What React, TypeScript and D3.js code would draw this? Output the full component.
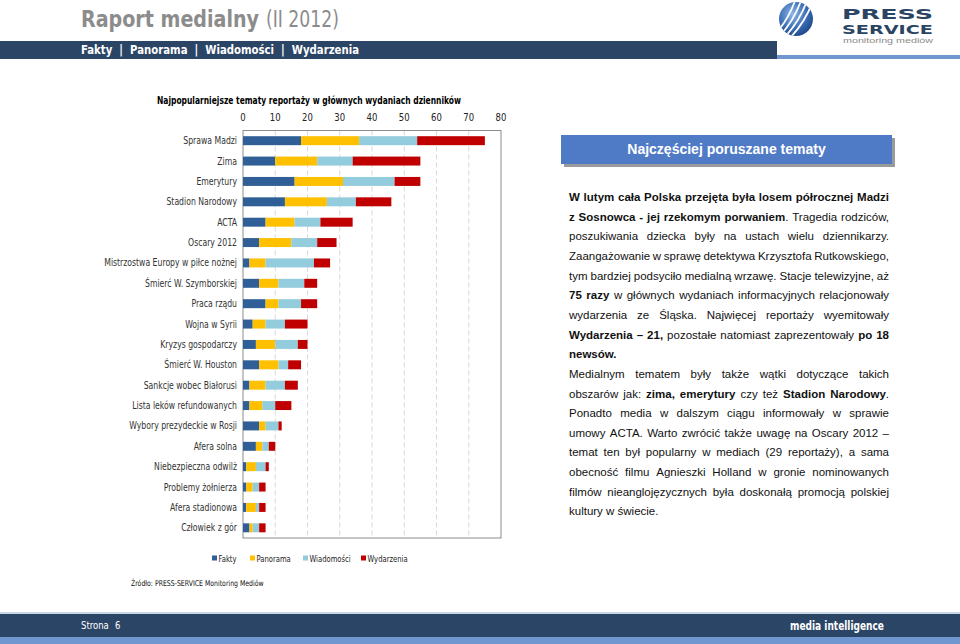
import React, { useMemo } from "react";
import * as d3 from "d3";

const categories = [
  "Sprawa Madzi", "Zima", "Emerytury", "Stadion Narodowy", "ACTA", "Oscary 2012",
  "Mistrzostwa Europy w piłce nożnej", "Śmierć W. Szymborskiej", "Praca rządu",
  "Wojna w Syrii", "Kryzys gospodarczy", "Śmierć W. Houston", "Sankcje wobec Białorusi",
  "Lista leków refundowanych", "Wybory prezydeckie w Rosji", "Afera solna",
  "Niebezpieczna odwilż", "Problemy żołnierza", "Afera stadionowa", "Człowiek z gór",
];
const seriesNames = ["Fakty", "Panorama", "Wiadomości", "Wydarzenia"];
const fakty = [18, 10, 16, 13, 7, 5, 2, 5, 7, 3, 4, 5, 2, 2, 5, 4, 1, 1, 1, 2];
const panorama = [18, 13, 15, 13, 9, 10, 5, 6, 4, 4, 6, 6, 5, 4, 2, 2, 3, 2, 3, 1];
const wiadomosci = [18, 11, 16, 9, 8, 8, 15, 8, 7, 6, 7, 3, 6, 4, 4, 2, 3, 2, 1, 2];
const wydarzenia = [21, 21, 8, 11, 10, 6, 5, 4, 5, 7, 3, 4, 4, 5, 1, 2, 1, 2, 2, 2];
const ticks = [0, 10, 20, 30, 40, 50, 60, 70, 80];
const colors = ["#2f5f96", "#ffc000", "#93cddd", "#c00000"];

const chartTitle = "Najpopularniejsze tematy reportaży w głównych wydaniach dzienników";
const sourceText = "Źródło: PRESS-SERVICE Monitoring Mediów";
const headerNav = "Fakty  |  Panorama  |  Wiadomości  |  Wydarzenia";
const boxTitle = "Najczęściej poruszane tematy";

type Seg = { t: string; b?: boolean };
const paragraphLines: Seg[][] = [
  [{ t: "W lutym cała Polska przejęta była losem półrocznej Madzi", b: true }],
  [{ t: "z Sosnowca - jej rzekomym porwaniem", b: true }, { t: ". Tragedia rodziców," }],
  [{ t: "poszukiwania dziecka były na ustach wielu dziennikarzy." }],
  [{ t: "Zaangażowanie w sprawę detektywa Krzysztofa Rutkowskiego," }],
  [{ t: "tym bardziej podsyciło medialną wrzawę. Stacje telewizyjne, aż" }],
  [{ t: "75 razy", b: true }, { t: " w głównych wydaniach informacyjnych relacjonowały" }],
  [{ t: "wydarzenia ze Śląska. Najwięcej reportaży wyemitowały" }],
  [{ t: "Wydarzenia – 21,", b: true }, { t: " pozostałe natomiast zaprezentowały " }, { t: "po 18", b: true }],
  [{ t: "newsów.", b: true }],
  [{ t: "Medialnym tematem były także wątki dotyczące takich" }],
  [{ t: "obszarów jak: " }, { t: "zima, emerytury", b: true }, { t: " czy też " }, { t: "Stadion Narodowy", b: true }, { t: "." }],
  [{ t: "Ponadto media w dalszym ciągu informowały w sprawie" }],
  [{ t: "umowy ACTA. Warto zwrócić także uwagę na Oscary 2012 –" }],
  [{ t: "temat ten był popularny w mediach (29 reportaży), a sama" }],
  [{ t: "obecność filmu Agnieszki Holland w gronie nominowanych" }],
  [{ t: "filmów nieanglojęzycznych była doskonałą promocją polskiej" }],
  [{ t: "kultury w świecie." }],
];
const paragraphEnds = [8, 16];

const NARROW = "'DejaVu Sans Condensed', 'DejaVu Sans', sans-serif";
const ARIAL = "'Liberation Sans', Arial, sans-serif";

function NT(props: any) {
  const { x, y, sx = 0.84, children, ...rest } = props;
  return (
    <text transform={`translate(${x},${y}) scale(${sx},1)`} fontFamily={NARROW} {...rest}>
      {children}
    </text>
  );
}

function splitWords(line: Seg[]): Seg[][] {
  const out: Seg[][] = [];
  let cur: Seg[] = [];
  line.forEach((seg) => {
    const parts = seg.t.split(" ");
    parts.forEach((p, i) => {
      if (i > 0) {
        if (cur.length) out.push(cur);
        cur = [];
      }
      if (p) cur.push({ t: p, b: seg.b });
    });
  });
  if (cur.length) out.push(cur);
  return out;
}

function Paragraph() {
  const fs = 11.5;
  const x0 = 569;
  const x1 = 889;
  const y0 = 201;
  const lh = 19.65;
  const layout = useMemo(() => {
    const ctx = document.createElement("canvas").getContext("2d")!;
    const measure = (s: Seg) => {
      ctx.font = `${s.b ? "bold " : ""}${fs}px "Liberation Sans"`;
      return ctx.measureText(s.t).width;
    };
    ctx.font = `${fs}px "Liberation Sans"`;
    const space = ctx.measureText(" ").width;
    return paragraphLines.map((line, li) => {
      const words = splitWords(line);
      const widths = words.map((w) => d3.sum(w, measure));
      const total = d3.sum(widths);
      const justify = !paragraphEnds.includes(li) && words.length > 1;
      const gap = justify ? (x1 - x0 - total) / (words.length - 1) : space;
      let x = x0;
      return words.map((w, i) => {
        const pos = x;
        x += widths[i] + gap;
        return { w, x: pos };
      });
    });
  }, []);
  return (
    <g fontFamily={ARIAL} fontSize={fs} fill="#111">
      {layout.map((line, li) =>
        line.map((item, wi) => (
          <text key={`${li}-${wi}`} x={item.x} y={y0 + li * lh}>
            {item.w.map((s, si) => (
              <tspan key={si} fontWeight={s.b ? "bold" : "normal"}>{s.t}</tspan>
            ))}
          </text>
        ))
      )}
    </g>
  );
}

function Chart() {
  const rows = categories.map((c, i) => ({
    cat: c,
    Fakty: fakty[i],
    Panorama: panorama[i],
    "Wiadomości": wiadomosci[i],
    Wydarzenia: wydarzenia[i],
  }));
  const stacked = d3.stack<any>().keys(seriesNames)(rows);
  const x = d3.scaleLinear().domain([0, 80]).range([243, 501]);
  const y = d3.scaleBand().domain(categories).range([130.5, 538]);
  const bw = y.bandwidth();
  const barH = bw * 0.44;
  const [top, bottom] = y.range();
  const lx = [212, 250, 303, 361];
  return (
    <g>
      <text x={309} y={104} textAnchor="middle" fontFamily={NARROW} fontSize={10.5} fontWeight="bold" fill="#000" textLength={304} lengthAdjust="spacingAndGlyphs">
        {chartTitle}
      </text>
      {ticks.map((t) => (
        <NT key={t} x={x(t)} y={121} sx={0.9} textAnchor="middle" fontSize={10.5} fill="#222">
          {t}
        </NT>
      ))}
      {ticks.slice(1, -1).map((t) => (
        <line key={t} x1={x(t)} x2={x(t)} y1={top} y2={bottom} stroke="#d9d9d9" strokeDasharray="5,3" />
      ))}
      <rect x={x(0)} y={top} width={x(80) - x(0)} height={bottom - top} fill="none" stroke="#8c8c8c" strokeWidth={1} />
      {stacked.map((s, si) => (
        <g key={s.key} fill={colors[si]}>
          {s.map((d: any, i: number) => (
            <rect
              key={i}
              x={x(d[0])}
              width={x(d[1]) - x(d[0])}
              y={(y(categories[i]) as number) + (bw - barH) / 2}
              height={barH}
            />
          ))}
        </g>
      ))}
      {categories.map((c) => (
        <NT key={c} x={237} y={(y(c) as number) + bw / 2 + 3.5} sx={0.86} textAnchor="end" fontSize={10} fill="#333">
          {c}
        </NT>
      ))}
      {seriesNames.map((n, i) => (
        <g key={n}>
          <rect x={lx[i]} y={555.5} width={5} height={5} fill={colors[i]} />
          <NT x={lx[i] + 6.5} y={561.5} sx={0.8} fontSize={9.5} fill="#222">
            {n}
          </NT>
        </g>
      ))}
      <NT x={131} y={586} sx={0.86} fontSize={8} fill="#111">
        {sourceText}
      </NT>
    </g>
  );
}

function Logo() {
  const stripes = [-10, -4, 2, 8];
  return (
    <g>
      <defs>
        <radialGradient id="globe" cx="40%" cy="35%" r="70%">
          <stop offset="0%" stopColor="#8fb6e6" />
          <stop offset="60%" stopColor="#3a6db5" />
          <stop offset="100%" stopColor="#1d4685" />
        </radialGradient>
        <clipPath id="globeClip">
          <circle cx={796} cy={19} r={17} />
        </clipPath>
      </defs>
      <circle cx={796} cy={19} r={17} fill="url(#globe)" />
      <g clipPath="url(#globeClip)" stroke="#fff" strokeWidth={1.8} fill="none">
        {stripes.map((o) => (
          <path key={o} d={`M ${780 + o} ${40} Q ${798 + o} ${22} ${806 + o} ${-2}`} />
        ))}
      </g>
      <text x={842} y={18.5} fontFamily="'DejaVu Sans', sans-serif" fontWeight="bold" fontSize={14} fill="#2a4463" textLength={91} lengthAdjust="spacingAndGlyphs">
        PRESS
      </text>
      <text x={842} y={34} fontFamily="'DejaVu Sans', sans-serif" fontWeight="bold" fontSize={12.5} fill="#2a4463" textLength={91} lengthAdjust="spacingAndGlyphs">
        SERVICE
      </text>
      <text x={843} y={43} fontFamily={ARIAL} fontSize={6.5} fill="#8a8a8a" textLength={90} lengthAdjust="spacingAndGlyphs">
        monitoring mediów
      </text>
    </g>
  );
}

export default function App() {
  return (
    <svg width={960} height={644} style={{ position: "fixed", left: 0, top: 0, background: "#fff" }}>
      <rect width={960} height={644} fill="#fff" />
      {/* header */}
      <text x={81} y={27} fontFamily={NARROW} fontSize={23} fontWeight="bold" fill="#8c8c8c" textLength={178} lengthAdjust="spacingAndGlyphs">
        Raport medialny
      </text>
      <text x={266} y={27} fontFamily={NARROW} fontSize={23} fill="#8c8c8c" textLength={73} lengthAdjust="spacingAndGlyphs">
        (II 2012)
      </text>
      <rect x={0} y={55} width={960} height={4} fill="#7097d0" />
      <rect x={0} y={41} width={777} height={18} fill="#2b4566" />
      <text x={81} y={54} fontFamily={NARROW} fontSize={12.5} fontWeight="bold" fill="#fff" style={{ whiteSpace: "pre" }} textLength={278} lengthAdjust="spacingAndGlyphs">
        {headerNav}
      </text>
      <Logo />
      <Chart />
      {/* right panel */}
      <rect x={564} y={138} width={331} height={29} fill="#9a9a9a" />
      <rect x={561} y={135} width={331} height={29} fill="#4f7bc6" />
      <text x={726.5} y={154} textAnchor="middle" fontFamily={ARIAL} fontWeight="bold" fontSize={14} fill="#fff">
        {boxTitle}
      </text>
      <Paragraph />
      {/* footer */}
      <rect x={0} y={612} width={960} height={2} fill="#c9d6ea" />
      <rect x={0} y={614} width={960} height={23} fill="#2b4566" />
      <rect x={0} y={637} width={960} height={7} fill="#7097d0" />
      <NT x={81} y={629} sx={0.86} fontSize={11} fill="#fff">
        Strona
      </NT>
      <NT x={115} y={629} sx={0.86} fontSize={11} fill="#fff">
        6
      </NT>
      <text x={884} y={630} textAnchor="end" fontFamily={NARROW} fontSize={13} fontWeight="bold" fill="#fff" textLength={94} lengthAdjust="spacingAndGlyphs">
        media intelligence
      </text>
    </svg>
  );
}
